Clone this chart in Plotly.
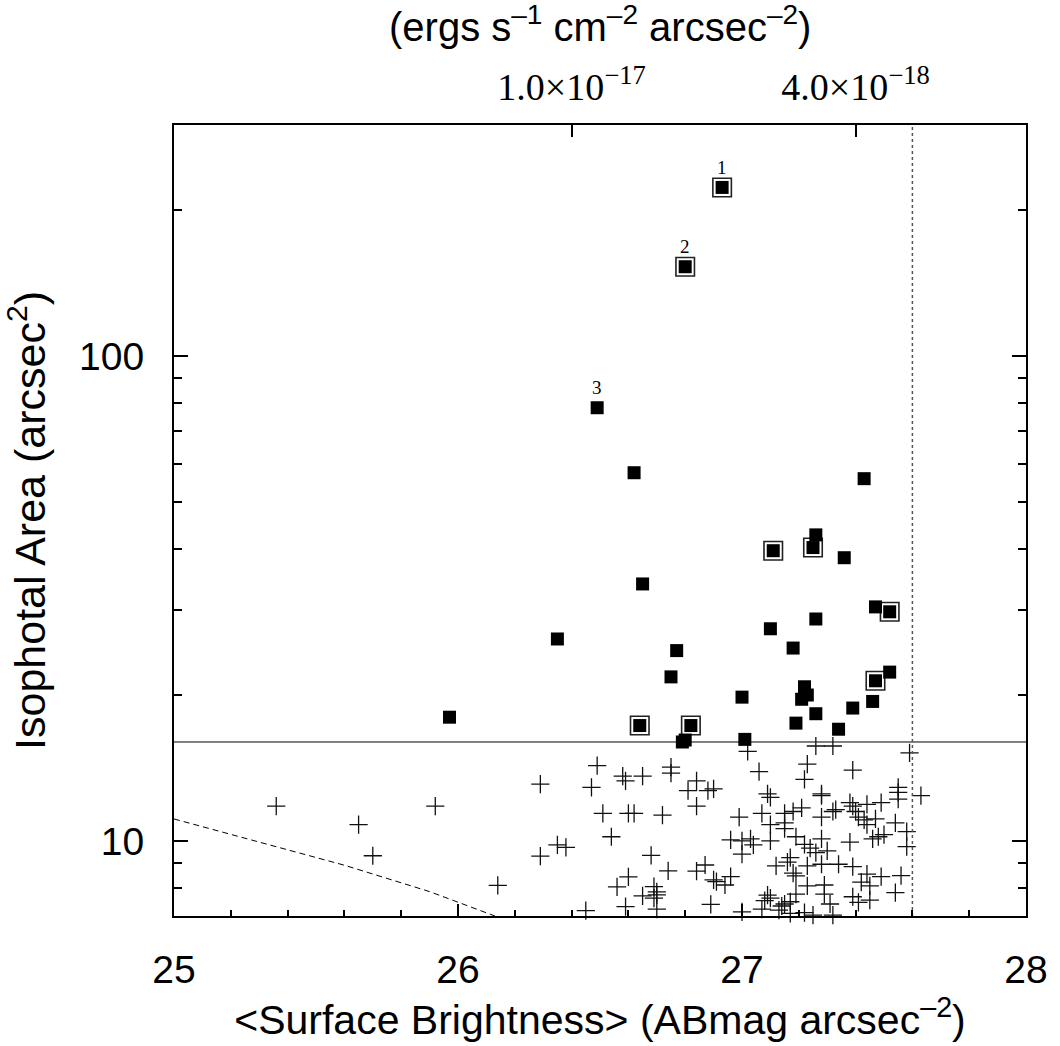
import numpy as np
import plotly.graph_objects as go

# ---------------- data ----------------
# detected sources above the area cut (filled squares)
sq_sb = [26.93, 26.80, 26.49, 26.62, 27.43, 27.26, 27.25, 27.11, 27.36, 26.65,
         27.47, 27.52, 27.26, 26.35, 27.10, 27.18, 26.77, 26.75, 27.52, 27.47,
         27.22, 27.23, 27.00, 27.21, 27.46, 27.39, 27.26, 25.97, 27.19, 27.34,
         26.64, 26.82, 26.80, 26.79, 27.01]
sq_area = [223, 153, 78.3, 57.5, 55.9, 42.8, 40.3, 39.7, 38.4, 33.9,
           30.4, 29.7, 28.7, 26.1, 27.4, 25.0, 24.7, 21.8, 22.3, 21.4,
           20.8, 20.0, 19.8, 19.6, 19.4, 18.8, 18.3, 18.0, 17.5, 17.0,
           17.3, 17.3, 16.15, 16.0, 16.2]
sq_boxed = [1, 1, 0, 0, 0, 0, 1, 1, 0, 0,
            0, 1, 0, 0, 0, 0, 0, 0, 0, 1,
            0, 0, 0, 0, 0, 0, 0, 0, 0, 0,
            1, 1, 0, 0, 0]
sq_labels = ["1", "2", "3"]

# sources below the area cut (crosses)
cross_sb = [25.36, 25.65, 25.92, 25.70, 26.14, 26.29, 26.49, 26.47, 26.58, 26.59,
            26.65, 26.75, 26.75, 26.84, 26.81, 26.88, 26.90, 26.84, 26.51, 26.60,
            26.62, 26.72, 26.54, 26.35, 26.38, 26.29, 26.68, 26.74, 26.60, 26.56,
            26.69, 26.70, 26.70, 26.65, 26.69, 26.87, 26.84, 26.90, 26.91, 26.94,
            26.89, 26.59, 26.45, 26.70,
            27.02, 27.26, 27.32, 27.59, 27.23, 27.06, 27.22, 27.39, 27.55, 27.55,
            27.55, 27.63, 27.09, 27.10, 27.28, 27.28, 27.38, 27.39, 27.44, 27.49,
            27.21, 27.18, 27.15, 27.33, 27.32, 27.07, 26.99, 27.28, 27.40, 27.41,
            27.43, 27.47, 27.54, 27.44, 27.15, 27.15, 27.10, 27.58, 27.19, 26.96,
            27.00, 27.03, 27.04, 27.10, 27.28, 27.38, 27.46, 27.48, 27.50, 27.58,
            27.22, 27.24, 27.26, 27.30, 27.00, 27.17, 27.16, 27.12, 27.23, 27.28,
            27.34, 27.39, 27.18, 27.19, 27.44, 27.49, 27.56, 27.42, 27.45, 27.23,
            27.29, 26.96, 27.54, 27.29, 27.19, 27.09, 27.08, 27.10, 27.17, 27.15,
            27.39, 27.41, 27.45, 27.31, 27.14, 27.07, 27.13, 27.00, 27.17, 27.22,
            27.25, 27.32]
cross_area = [11.8, 10.8, 11.8, 9.32, 8.10, 13.1, 14.3, 12.9, 13.6, 13.3,
              13.6, 14.2, 13.8, 13.3, 12.7, 12.7, 12.8, 11.8, 11.4, 11.4,
              11.4, 11.3, 10.2, 9.81, 9.70, 9.30, 9.34, 8.67, 8.43, 8.04,
              8.05, 7.85, 7.74, 7.70, 7.62, 8.92, 8.66, 8.31, 8.24, 8.11,
              7.40, 7.32, 7.18, 7.23,
              15.3, 15.7, 15.7, 15.2, 14.4, 13.9, 13.4, 14.0, 12.9, 12.6,
              12.2, 12.4, 12.5, 12.3, 12.5, 12.4, 12.0, 11.8, 11.9, 12.0,
              11.7, 11.5, 11.4, 11.6, 11.5, 11.4, 11.2, 11.2, 11.5, 11.2,
              11.05, 11.1, 10.9, 10.8, 10.9, 10.6, 10.8, 10.45, 10.2, 10.05,
              10.0, 10.1, 9.81, 10.0, 10.1, 9.94, 10.1, 10.2, 10.3, 9.73,
              9.84, 9.66, 9.46, 9.54, 9.39, 9.24, 9.04, 8.88, 8.88, 8.95,
              8.95, 8.85, 8.58, 8.47, 8.54, 8.44, 8.48, 8.22, 8.08, 8.08,
              8.11, 8.44, 7.82, 7.77, 7.77, 7.73, 7.53, 7.62, 7.49, 7.41,
              7.67, 7.47, 7.55, 7.41, 7.34, 7.23, 7.20, 7.14, 7.09, 7.11,
              7.03, 7.03]

# dashed limit curve
limit_sb = [25.0, 25.3, 25.6, 25.9, 26.13]
limit_area = [11.1, 9.94, 8.91, 7.86, 7.0]

area_cut = 16.0          # horizontal line
sb_limit = 27.6          # vertical dotted line

x_range = [25.0, 28.0]
y_range = [7.0, 300.0]
x_ticks = [25, 26, 27, 28]
y_ticks = [10, 100]
y_minor = [8, 9, 20, 30, 40, 50, 60, 70, 80, 90, 200]
top_tick_sb = [26.40, 27.40]
top_tick_text = ["1.0×10<sup>−17</sup>", "4.0×10<sup>−18</sup>"]
top_title = "(ergs s<sup>–1</sup> cm<sup>–2</sup> arcsec<sup>–2</sup>)"

# ---------------- figure ----------------
SANS = "Liberation Sans, Arial, Helvetica, sans-serif"
SERIF = "Liberation Serif, Times New Roman, serif"

fig = go.Figure()

fig.add_trace(go.Scatter(x=limit_sb, y=limit_area, mode="lines",
                         line=dict(color="black", width=1, dash="6px,4px"),
                         hoverinfo="skip", showlegend=False))
fig.add_trace(go.Scatter(x=x_range, y=[area_cut, area_cut], mode="lines",
                         line=dict(color="black", width=1),
                         hoverinfo="skip", showlegend=False))
fig.add_trace(go.Scatter(x=[sb_limit, sb_limit], y=y_range, mode="lines",
                         xaxis="x2",
                         line=dict(color="#555555", width=1.5, dash="dot"),
                         hoverinfo="skip", showlegend=False))

fig.add_trace(go.Scatter(x=cross_sb, y=cross_area, mode="markers",
                         marker=dict(symbol="cross-thin", size=13,
                                     line=dict(color="#111111", width=1.3)),
                         cliponaxis=False, showlegend=False))

bx = [s for s, b in zip(sq_sb, sq_boxed) if b]
by = [a for a, b in zip(sq_area, sq_boxed) if b]
fig.add_trace(go.Scatter(x=bx, y=by, mode="markers",
                         marker=dict(symbol="square-open", size=18.5, color="#222222",
                                     line=dict(color="#222222", width=1.6)),
                         showlegend=False))
fig.add_trace(go.Scatter(x=sq_sb, y=sq_area, mode="markers",
                         marker=dict(symbol="square", size=13, color="black",
                                     line=dict(width=0)),
                         showlegend=False))

for lab, sx, sa in zip(sq_labels, sq_sb, sq_area):
    fig.add_annotation(x=sx, y=np.log10(sa), xref="x", yref="y", text=lab,
                       showarrow=False, yshift=20,
                       font=dict(family=SERIF, size=19, color="black"))

# top axis title
fig.add_annotation(x=0.5, y=1, xref="paper", yref="paper", text=top_title,
                   showarrow=False, yanchor="middle", yshift=101,
                   font=dict(family=SANS, size=40, color="black"))

fig.update_layout(
    width=1060, height=1046,
    margin=dict(l=174, r=26, t=125, b=130),
    paper_bgcolor="white", plot_bgcolor="white",
    showlegend=False,
    xaxis=dict(range=x_range, tickmode="array", tickvals=x_ticks,
               ticks="inside", ticklen=12, tickwidth=2, tickcolor="black",
               showline=True, linewidth=2, linecolor="black", mirror=True,
               showgrid=False, zeroline=False,
               tickfont=dict(family=SANS, size=39, color="black"),
               ticklabelstandoff=18,
               minor=dict(dtick=0.2, tick0=25, ticks="inside", ticklen=6,
                          tickwidth=1.5, tickcolor="black", showgrid=False),
               title=dict(text="&lt;Surface Brightness&gt; (ABmag arcsec<sup>–2</sup>)",
                          font=dict(family=SANS, size=41, color="black"),
                          standoff=10)),
    xaxis2=dict(range=x_range, overlaying="x", side="top", anchor="y",
                tickmode="array", tickvals=top_tick_sb, ticktext=top_tick_text,
                ticks="inside", ticklen=12, tickwidth=2, tickcolor="black",
                showline=False, showgrid=False, zeroline=False,
                tickfont=dict(family=SERIF, size=38, color="black"),
                ticklabelstandoff=16),
    yaxis=dict(type="log", range=[np.log10(y_range[0]), np.log10(y_range[1])],
               tickmode="array", tickvals=y_ticks, ticktext=[str(v) for v in y_ticks],
               ticks="inside", ticklen=14, tickwidth=2, tickcolor="black",
               showline=True, linewidth=2, linecolor="black", mirror="ticks",
               showgrid=False, zeroline=False,
               tickfont=dict(family=SANS, size=39, color="black"),
               ticklabelstandoff=20,
               minor=dict(tickmode="array", tickvals=y_minor, ticks="inside",
                          ticklen=8, tickwidth=1.5, tickcolor="black", showgrid=False),
               title=dict(text="Isophotal Area (arcsec<sup>2</sup>)",
                          font=dict(family=SANS, size=43, color="black"),
                          standoff=21)),
)

fig.write_html("out.html", config={"displayModeBar": False},
               post_script="document.body.style.margin='0';"
                           "document.body.style.overflow='hidden';")
